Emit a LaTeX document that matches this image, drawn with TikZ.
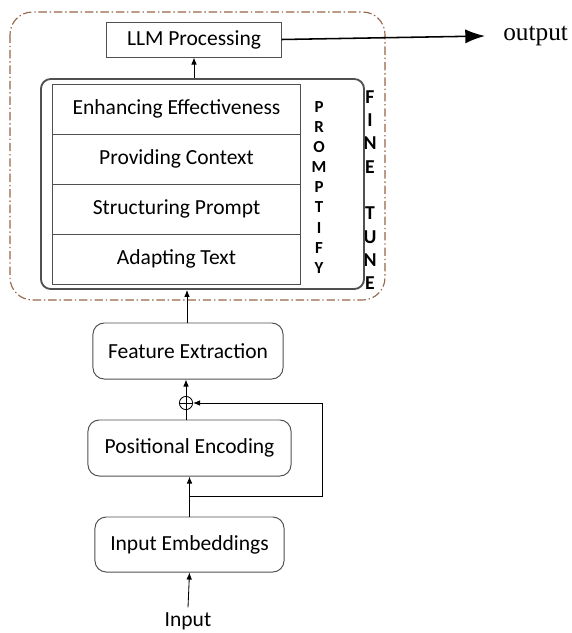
\documentclass[tikz,border=0pt]{standalone}
\usepackage{fontspec}
\setmainfont{Carlito}
\newfontfamily\seriffont{Liberation Serif}
\usepackage{xcolor}
\usetikzlibrary{arrows.meta}
\definecolor{tunebrown}{RGB}{150,102,72}
\definecolor{boxgray}{RGB}{80,80,80}

\begin{document}
\begin{tikzpicture}[x=0.025cm, y=-0.025cm, every node/.style={font=\fontsize{15.3}{17}\selectfont},
    plainbox/.style={draw=boxgray, line width=0.7pt, inner sep=0pt},
    roundbox/.style={plainbox, rounded corners=8pt},
    flow/.style={-{Latex[length=5pt,width=4pt]}, line width=0.6pt},
    letter/.style={font=\fontsize{12}{12}\selectfont\bfseries, inner sep=0pt}]
  \useasboundingbox (0,0) rectangle (572,633);
  % fine tune region
  \draw[tunebrown, line width=0.8pt, rounded corners=16pt, dash pattern=on 6pt off 2pt on 1pt off 2pt] (10,12) rectangle (385,300);
  \foreach \ch [count=\k from 0] in {F,I,N,E,,T,U,N,E}
    \node[letter, font=\fontsize{14}{14}\selectfont\bfseries] (ft\k) at (370,97+23.3*\k) {\ch};
  % top of the stack
  \node[plainbox, minimum width=4.35cm, minimum height=0.875cm] (llm) at (194,39.5) {LLM Processing};
  \node[draw=boxgray, line width=1.3pt, rounded corners=7pt, minimum width=8.075cm, minimum height=5.25cm] (prompt) at (202.5,184) {};
  \node[plainbox, minimum width=6.175cm, minimum height=1.25cm] (r1) at (176.5,109) {Enhancing Effectiveness};
  \node[plainbox, minimum width=6.175cm, minimum height=1.25cm] (r2) at (176.5,159) {Providing Context};
  \node[plainbox, minimum width=6.175cm, minimum height=1.25cm] (r3) at (176.5,209) {Structuring Prompt};
  \node[plainbox, minimum width=6.175cm, minimum height=1.25cm] (r4) at (176.5,259) {Adapting Text};
  \foreach \ch [count=\k from 0] in {P,R,O,M,P,T,I,F,Y}
    \node[letter] (pf\k) at (319,107+20.1*\k) {\ch};
  % lower blocks
  \node[roundbox, minimum width=4.75cm, minimum height=1.4cm] (feat) at (188,351) {Feature Extraction};
  \node[draw, circle, line width=0.6pt, minimum size=0.33cm, inner sep=0pt] (sum) at (186,403) {};
  \draw[line width=0.6pt] (sum.north) -- (sum.south) (sum.west) -- (sum.east);
  \node[roundbox, minimum width=5.075cm, minimum height=1.4cm] (pos) at (189.5,448) {Positional Encoding};
  \node[roundbox, minimum width=4.725cm, minimum height=1.375cm] (emb) at (189.5,544.5) {Input Embeddings};
  \node (inp) at (188,621) {Input};
  \node[font=\fontsize{18}{20}\selectfont\seriffont, anchor=west, inner sep=0pt] (out) at (503,36) {output};
  % connectors
  \draw[flow] (inp.north) -- (emb.south);
  \draw[flow] (emb.north) -- (pos.south);
  \coordinate (tap) at (189.5,496);
  \coordinate (back) at (322,496);
  \draw[flow] (tap) -- (back) -- (back |- sum) -- (sum.east);
  \draw[line width=0.6pt] (pos.north -| sum) -- (sum.south);
  \draw[flow] (sum.north) -- (feat.south -| sum);
  \draw[flow] (feat.north -| 187,0) -- (prompt.south -| 187,0);
  \draw[flow] (prompt.north -| llm) -- (llm.south);
  \draw[-{Latex[length=14pt,width=10pt]}, line width=1.1pt] (llm.east) -- ([xshift=-0.45cm]out.west);
\end{tikzpicture}
\end{document}
